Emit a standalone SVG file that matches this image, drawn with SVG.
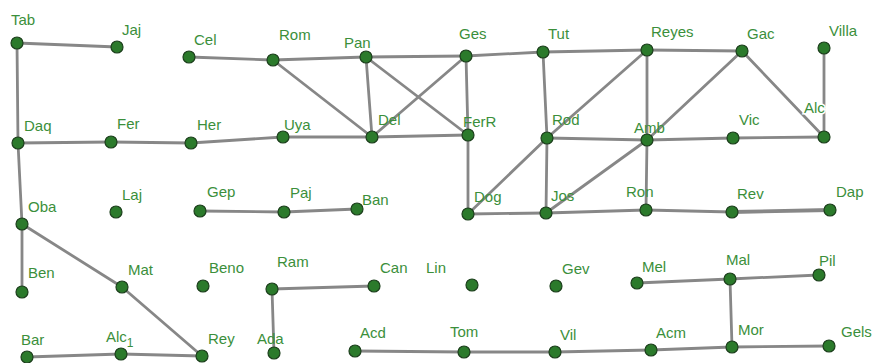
<svg xmlns="http://www.w3.org/2000/svg" width="874" height="363" viewBox="0 0 874 363">
<style>
  .e { stroke: #878787; stroke-width: 2.8; fill: none; stroke-linecap: round; }
  .n circle { fill: #2b7a2b; stroke: #1c3f1c; stroke-width: 1.2; }
  .n text { font-family: "Liberation Sans", Arial, sans-serif; font-size: 15px; fill: #3b8f3b; }
  .halo { stroke: #ffffff; stroke-width: 3; paint-order: stroke; }
</style>
<rect width="874" height="363" fill="#ffffff"/>
<g id="connectors">
  <line class="e" x1="17" y1="43" x2="117" y2="47"/>
  <line class="e" x1="17" y1="43" x2="18" y2="143"/>
  <line class="e" x1="18" y1="143" x2="22" y2="224"/>
  <line class="e" x1="22" y1="224" x2="22" y2="292"/>
  <line class="e" x1="22" y1="224" x2="122" y2="287"/>
  <line class="e" x1="122" y1="287" x2="202" y2="356"/>
  <line class="e" x1="27" y1="357" x2="121" y2="354"/>
  <line class="e" x1="121" y1="354" x2="202" y2="356"/>
  <line class="e" x1="18" y1="143" x2="111" y2="142"/>
  <line class="e" x1="111" y1="142" x2="191" y2="143"/>
  <line class="e" x1="191" y1="143" x2="283" y2="137"/>
  <line class="e" x1="283" y1="137" x2="372" y2="137"/>
  <line class="e" x1="372" y1="137" x2="468" y2="135"/>
  <line class="e" x1="189" y1="57" x2="273" y2="60"/>
  <line class="e" x1="273" y1="60" x2="366" y2="57"/>
  <line class="e" x1="273" y1="60" x2="372" y2="137"/>
  <line class="e" x1="366" y1="57" x2="372" y2="137"/>
  <line class="e" x1="366" y1="57" x2="466" y2="56"/>
  <line class="e" x1="366" y1="57" x2="468" y2="135"/>
  <line class="e" x1="372" y1="137" x2="466" y2="56"/>
  <line class="e" x1="466" y1="56" x2="468" y2="135"/>
  <line class="e" x1="466" y1="56" x2="543" y2="52"/>
  <line class="e" x1="543" y1="52" x2="647" y2="50"/>
  <line class="e" x1="647" y1="50" x2="742" y2="51"/>
  <line class="e" x1="543" y1="52" x2="547" y2="138"/>
  <line class="e" x1="547" y1="138" x2="546" y2="213"/>
  <line class="e" x1="647" y1="50" x2="547" y2="138"/>
  <line class="e" x1="647" y1="50" x2="647" y2="140"/>
  <line class="e" x1="742" y1="51" x2="647" y2="140"/>
  <line class="e" x1="742" y1="51" x2="824" y2="137"/>
  <line class="e" x1="824" y1="48" x2="824" y2="137"/>
  <line class="e" x1="547" y1="138" x2="647" y2="140"/>
  <line class="e" x1="647" y1="140" x2="733" y2="138"/>
  <line class="e" x1="733" y1="138" x2="824" y2="137"/>
  <line class="e" x1="468" y1="135" x2="468" y2="214"/>
  <line class="e" x1="468" y1="214" x2="546" y2="213"/>
  <line class="e" x1="468" y1="214" x2="547" y2="138"/>
  <line class="e" x1="546" y1="213" x2="647" y2="140"/>
  <line class="e" x1="647" y1="140" x2="646" y2="210"/>
  <line class="e" x1="546" y1="213" x2="646" y2="210"/>
  <line class="e" x1="646" y1="210" x2="732" y2="212"/>
  <line class="e" x1="732" y1="212" x2="830" y2="210" style="stroke-width:3.8"/>
  <line class="e" x1="200" y1="211" x2="284" y2="212"/>
  <line class="e" x1="284" y1="212" x2="357" y2="209"/>
  <line class="e" x1="272" y1="289" x2="374" y2="286"/>
  <line class="e" x1="272" y1="289" x2="274" y2="353"/>
  <line class="e" x1="637" y1="283" x2="730" y2="279"/>
  <line class="e" x1="730" y1="279" x2="819" y2="275"/>
  <line class="e" x1="730" y1="279" x2="732" y2="347"/>
  <line class="e" x1="355" y1="351" x2="464" y2="352"/>
  <line class="e" x1="464" y1="352" x2="555" y2="352"/>
  <line class="e" x1="555" y1="352" x2="651" y2="350"/>
  <line class="e" x1="651" y1="350" x2="732" y2="347"/>
  <line class="e" x1="732" y1="347" x2="829" y2="346"/>
</g>
<g id="Tab" class="n"><circle cx="17" cy="43" r="6"/><text x="11" y="25">Tab</text></g>
<g id="Jaj" class="n"><circle cx="117" cy="47" r="6"/><text x="122" y="35">Jaj</text></g>
<g id="Cel" class="n"><circle cx="189" cy="57" r="6"/><text x="194" y="45">Cel</text></g>
<g id="Rom" class="n"><circle cx="273" cy="60" r="6"/><text x="279" y="40">Rom</text></g>
<g id="Pan" class="n"><circle cx="366" cy="57" r="6"/><text x="344" y="48">Pan</text></g>
<g id="Ges" class="n"><circle cx="466" cy="56" r="6"/><text x="459" y="39">Ges</text></g>
<g id="Tut" class="n"><circle cx="543" cy="52" r="6"/><text x="548" y="39">Tut</text></g>
<g id="Reyes" class="n"><circle cx="647" cy="50" r="6"/><text x="651" y="37">Reyes</text></g>
<g id="Gac" class="n"><circle cx="742" cy="51" r="6"/><text x="747" y="39">Gac</text></g>
<g id="Villa" class="n"><circle cx="824" cy="48" r="6"/><text x="829" y="36">Villa</text></g>
<g id="Daq" class="n"><circle cx="18" cy="143" r="6"/><text x="24" y="131">Daq</text></g>
<g id="Fer" class="n"><circle cx="111" cy="142" r="6"/><text x="117" y="129">Fer</text></g>
<g id="Her" class="n"><circle cx="191" cy="143" r="6"/><text x="197" y="130">Her</text></g>
<g id="Uya" class="n"><circle cx="283" cy="137" r="6"/><text x="284" y="130">Uya</text></g>
<g id="Del" class="n"><circle cx="372" cy="137" r="6"/><text x="378" y="125">Del</text></g>
<g id="FerR" class="n"><circle cx="468" cy="135" r="6"/><text x="463" y="127">FerR</text></g>
<g id="Rod" class="n"><circle cx="547" cy="138" r="6"/><text x="552" y="125">Rod</text></g>
<g id="Amb" class="n"><circle cx="647" cy="140" r="6"/><text x="634" y="133">Amb</text></g>
<g id="Vic" class="n"><circle cx="733" cy="138" r="6"/><text x="739" y="125">Vic</text></g>
<g id="Alc" class="n"><circle cx="824" cy="137" r="6"/><text class="halo" x="804" y="113">Alc</text></g>
<g id="Oba" class="n"><circle cx="22" cy="224" r="6"/><text x="28" y="212">Oba</text></g>
<g id="Laj" class="n"><circle cx="116" cy="212" r="6"/><text x="122" y="200">Laj</text></g>
<g id="Gep" class="n"><circle cx="200" cy="211" r="6"/><text x="207" y="197">Gep</text></g>
<g id="Paj" class="n"><circle cx="284" cy="212" r="6"/><text x="290" y="198">Paj</text></g>
<g id="Ban" class="n"><circle cx="357" cy="209" r="6"/><text x="362" y="205">Ban</text></g>
<g id="Dog" class="n"><circle cx="468" cy="214" r="6"/><text x="474" y="202">Dog</text></g>
<g id="Jos" class="n"><circle cx="546" cy="213" r="6"/><text x="551" y="201">Jos</text></g>
<g id="Ron" class="n"><circle cx="646" cy="210" r="6"/><text x="626" y="197">Ron</text></g>
<g id="Rev" class="n"><circle cx="732" cy="212" r="6"/><text x="737" y="199">Rev</text></g>
<g id="Dap" class="n"><circle cx="830" cy="210" r="6"/><text x="836" y="197">Dap</text></g>
<g id="Ben" class="n"><circle cx="22" cy="292" r="6"/><text x="28" y="278">Ben</text></g>
<g id="Mat" class="n"><circle cx="122" cy="287" r="6"/><text x="128" y="275">Mat</text></g>
<g id="Beno" class="n"><circle cx="203" cy="286" r="6"/><text x="209" y="273">Beno</text></g>
<g id="Ram" class="n"><circle cx="272" cy="289" r="6"/><text x="277" y="267">Ram</text></g>
<g id="Can" class="n"><circle cx="374" cy="286" r="6"/><text x="380" y="273">Can</text></g>
<g id="Lin" class="n"><circle cx="472" cy="285" r="6"/><text x="426" y="273">Lin</text></g>
<g id="Gev" class="n"><circle cx="556" cy="286" r="6"/><text x="562" y="274">Gev</text></g>
<g id="Mel" class="n"><circle cx="637" cy="283" r="6"/><text x="642" y="272">Mel</text></g>
<g id="Mal" class="n"><circle cx="730" cy="279" r="6"/><text x="726" y="265">Mal</text></g>
<g id="Pil" class="n"><circle cx="819" cy="275" r="6"/><text x="819" y="266">Pil</text></g>
<g id="Bar" class="n"><circle cx="27" cy="357" r="6"/><text x="21" y="345">Bar</text></g>
<g id="Alc1" class="n"><circle cx="121" cy="354" r="6"/><text x="106" y="342">Alc<tspan dy="5" font-size="12">1</tspan></text></g>
<g id="Rey" class="n"><circle cx="202" cy="356" r="6"/><text x="208" y="344">Rey</text></g>
<g id="Ada" class="n"><circle cx="274" cy="353" r="6"/><text x="257" y="344">Ada</text></g>
<g id="Acd" class="n"><circle cx="355" cy="351" r="6"/><text x="360" y="338">Acd</text></g>
<g id="Tom" class="n"><circle cx="464" cy="352" r="6"/><text x="450" y="337">Tom</text></g>
<g id="Vil" class="n"><circle cx="555" cy="352" r="6"/><text x="560" y="340">Vil</text></g>
<g id="Acm" class="n"><circle cx="651" cy="350" r="6"/><text x="656" y="338">Acm</text></g>
<g id="Mor" class="n"><circle cx="732" cy="347" r="6"/><text x="738" y="335">Mor</text></g>
<g id="Gels" class="n"><circle cx="829" cy="346" r="6"/><text x="841" y="337">Gels</text></g>
</svg>
